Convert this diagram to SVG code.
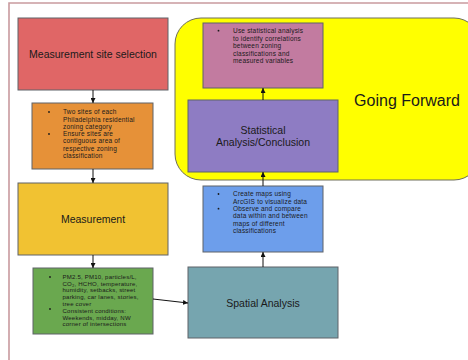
<svg xmlns="http://www.w3.org/2000/svg" width="468" height="360" viewBox="0 0 468 360">
<defs>
<marker id="ah" viewBox="0 0 10 10" refX="10" refY="5" markerWidth="5" markerHeight="5" orient="auto" markerUnits="userSpaceOnUse">
<path d="M0,0 L10,5 L0,10 z" fill="#111"/>
</marker>
<style>
.box{stroke:#5f6368;stroke-width:1}
.title{font-family:"Liberation Sans",Arial,sans-serif;font-size:10.5px;fill:#1a1a1a;text-anchor:middle}
.bt{font-family:"Liberation Sans",Arial,sans-serif;font-size:6.5px;letter-spacing:0.2px;fill:#1a1a1a}
.bg{font-family:"Liberation Sans",Arial,sans-serif;font-size:6.05px;letter-spacing:0.2px;fill:#1a1a1a}
.dot{fill:#1a1a1a}
.conn{stroke:#111;stroke-width:1;fill:none;marker-end:url(#ah)}
</style>
</defs>
<rect width="468" height="360" fill="#fff"/>
<g id="frame">
<path d="M9,360 V3 H468" fill="none" stroke="#c99a9e" stroke-width="1.6"/>
</g>
<g id="going-forward">
<rect x="175" y="18" width="305" height="162" rx="26" ry="26" fill="#ffff00" stroke="#6f6f5a" stroke-width="1"/>
<text x="407" y="106" font-family="'Liberation Sans',Arial,sans-serif" font-size="16" fill="#1a1a1a" text-anchor="middle">Going Forward</text>
</g>
<g id="site-selection">
<rect class="box" x="18" y="18" width="150" height="72" fill="#e06666"/>
<text class="title" x="93" y="58">Measurement site selection</text>
</g>
<g id="site-criteria">
<rect class="box" x="32" y="103" width="121" height="66" fill="#e69138"/>
<circle class="dot" cx="49" cy="112" r="0.9"/>
<circle class="dot" cx="49" cy="134" r="0.9"/>
<text class="bt"><tspan x="63" y="114.2">Two sites of each</tspan><tspan x="63" y="121.5">Philadelphia residential</tspan><tspan x="63" y="128.8">zoning category</tspan><tspan x="63" y="136.1">Ensure sites are</tspan><tspan x="63" y="143.4">contiguous area of</tspan><tspan x="63" y="150.7">respective zoning</tspan><tspan x="63" y="158">classification</tspan></text>
</g>
<g id="measurement">
<rect class="box" x="18" y="183" width="150" height="72" fill="#f1c232"/>
<text class="title" x="93" y="223">Measurement</text>
</g>
<g id="measurement-details">
<rect class="box" x="33" y="268" width="120" height="66" fill="#6aa84f"/>
<circle class="dot" cx="50" cy="277" r="0.9"/>
<circle class="dot" cx="50" cy="309" r="0.9"/>
<text class="bg"><tspan x="62.5" y="278.8">PM2.5, PM10, particles/L,</tspan><tspan x="62.5" y="285.6">CO₂, HCHO, temperature,</tspan><tspan x="62.5" y="292.4">humidity, setbacks, street</tspan><tspan x="62.5" y="299.2">parking, car lanes, stories,</tspan><tspan x="62.5" y="306">tree cover</tspan><tspan x="62.5" y="312.8">Consistent conditions:</tspan><tspan x="62.5" y="319.6">Weekends, midday, NW</tspan><tspan x="62.5" y="326.4">corner of intersections</tspan></text>
</g>
<g id="spatial-analysis">
<rect class="box" x="188" y="267" width="150" height="71" fill="#76a5af"/>
<text class="title" x="263" y="307">Spatial Analysis</text>
</g>
<g id="spatial-details">
<rect class="box" x="203" y="186" width="120" height="66" fill="#6d9eeb"/>
<circle class="dot" cx="218.5" cy="194" r="0.9"/>
<circle class="dot" cx="218.5" cy="208.7" r="0.9"/>
<text class="bt"><tspan x="233" y="196.4">Create maps using</tspan><tspan x="233" y="203.7">ArcGIS to visualize data</tspan><tspan x="233" y="211">Observe and compare</tspan><tspan x="233" y="218.3">data within and between</tspan><tspan x="233" y="225.6">maps of different</tspan><tspan x="233" y="232.9">classifications</tspan></text>
</g>
<g id="statistical-analysis">
<rect class="box" x="188" y="100" width="150" height="72" fill="#8e7cc3"/>
<text class="title"><tspan x="263" y="134">Statistical</tspan><tspan x="263" y="145.5">Analysis/Conclusion</tspan></text>
</g>
<g id="statistical-details">
<rect class="box" x="203" y="23" width="120" height="65" fill="#c27ba0"/>
<circle class="dot" cx="218.5" cy="30.7" r="0.9"/>
<text class="bt"><tspan x="233" y="33">Use statistical analysis</tspan><tspan x="233" y="40.5">to identify correlations</tspan><tspan x="233" y="48">between zoning</tspan><tspan x="233" y="55.5">classifications and</tspan><tspan x="233" y="63">measured variables</tspan></text>
</g>
<g id="connectors">
<path class="conn" d="M93,90 V103"/>
<path class="conn" d="M93,169 V183"/>
<path class="conn" d="M93,255 V268"/>
<path class="conn" d="M153,299 L188,303"/>
<path class="conn" d="M263,267 V252"/>
<path class="conn" d="M263,186 V172"/>
<path class="conn" d="M263,100 V88"/>
</g>
</svg>
